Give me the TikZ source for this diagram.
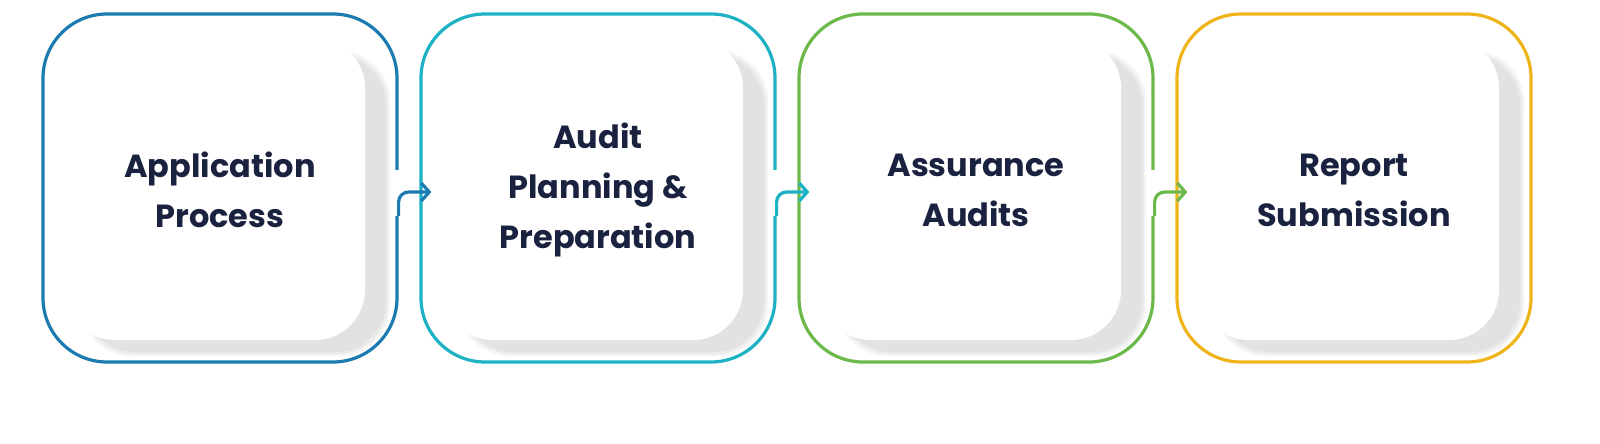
\documentclass[tikz,border=0pt]{standalone}
\usepackage{fontspec}
\setmainfont{Poppins}
\usetikzlibrary{positioning,arrows.meta}
\definecolor{cBlue}{HTML}{1C7BB0}
\definecolor{cTeal}{HTML}{1DB2C3}
\definecolor{cGreen}{HTML}{6BB84B}
\definecolor{cGold}{HTML}{EFB41A}
\definecolor{cText}{HTML}{1B2240}
\tikzset{>=latex}
\begin{document}
\begin{tikzpicture}[x=0.5pt,y=-0.5pt]
\tikzset{outer/.style={draw=#1, line width=1.6pt, rounded corners=32pt, minimum width=177pt, minimum height=174pt, inner sep=0pt},
  inner/.style={fill=white, rounded corners=25pt, minimum width=150pt, minimum height=151pt, inner sep=0pt},
  label/.style={text=cText, font=\bfseries\fontsize{16}{25}\selectfont, align=center},
  step/.style={draw=#1, line width=1.6pt, rounded corners=5pt, -{Straight Barb[length=4pt,width=9pt,line width=1.6pt]}}}
\useasboundingbox (0,0) rectangle (1600,444);
% % % % % % % % % % % % % % % % % % %
\foreach \name/\x/\col/\txt in {app/0/cBlue/{Application\\Process}, plan/378/cTeal/{Audit\\Planning \&\\Preparation}, aud/756/cGreen/{Assurance\\Audits}, rep/1134/cGold/{Report\\Submission}}{
  \node[outer=\col] (\name) at (220+\x,188) {};
  \foreach \k in {0,2,4}
    \fill[black, opacity=0.04, rounded corners=25pt] (85+\x-\k,55-\k) rectangle (386+\x+\k,352+\k);
  \node[inner] (\name-in) at (215+\x,189) {};
  \node[label] (\name-txt) at (220+\x,190) {\txt};
}
% gaps in the outlines
\foreach \gx in {397,430,775,808,1153,1186}
  \fill[white] (\gx-3.5,170) rectangle (\gx+3.5,216);
% connectors
\foreach \a/\b/\col in {app/plan/cBlue, plan/aud/cTeal, aud/rep/cGreen}{
  \coordinate (\a-out) at ([yshift=-14pt]\a.east);
  \coordinate (\a-to) at ([xshift=6pt,yshift=-2pt]\b.west);
  \draw[step=\col] (\a-out) |- (\a-to);
}
\end{tikzpicture}
\end{document}
